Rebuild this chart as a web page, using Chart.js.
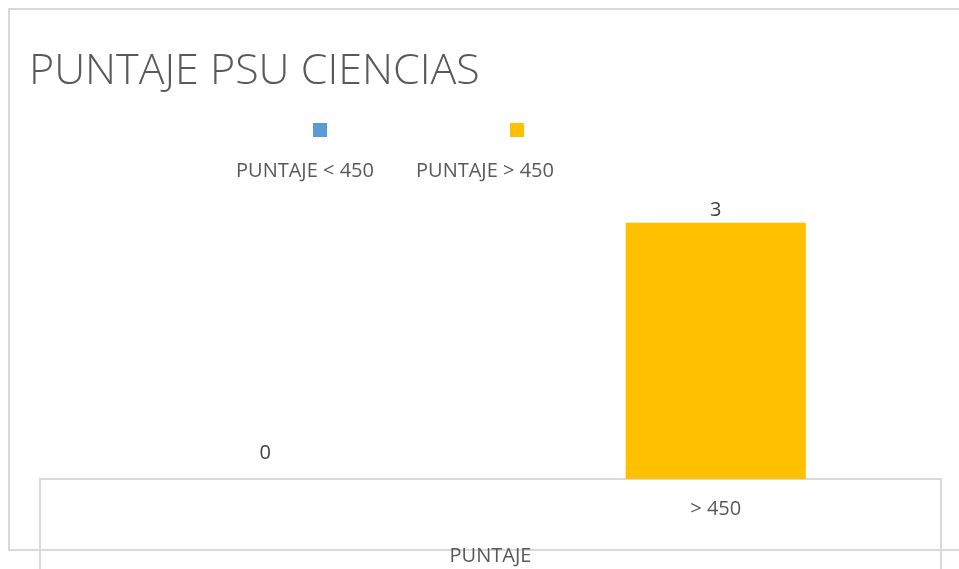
<!DOCTYPE html>
<html>
<head>
<meta charset="utf-8">
<script src="https://cdn.jsdelivr.net/npm/chart.js@4/dist/chart.umd.min.js"></script>
<style>
  html, body { margin: 0; padding: 0; background: #ffffff; }
  #wrap { position: relative; width: 959px; height: 569px; }
</style>
</head>
<body>
<div id="wrap"><canvas id="c" width="959" height="569"></canvas></div>
<script>
const chartTitle = "PUNTAJE PSU CIENCIAS";
const categories = ["", "> 450"];
const groupLabel = "PUNTAJE";
const seriesNames = ["PUNTAJE < 450", "PUNTAJE > 450"];
const seriesLow = [0, null];
const seriesHigh = [null, 3];
const seriesColors = ["#5B9BD5", "#FFC000"];

const TEXT = "#595959";
const LINE = "#d9d9d9";
const FONT = "'Open Sans', 'Liberation Sans', sans-serif";

const decor = {
  id: "decor",
  beforeDraw(chart) {
    const ctx = chart.ctx;
    const x = chart.scales.x;
    const area = chart.chartArea;
    ctx.save();
    ctx.strokeStyle = LINE;
    ctx.lineWidth = 2;
    // outer frame
    ctx.beginPath();
    ctx.moveTo(970, 9); ctx.lineTo(9, 9); ctx.lineTo(9, 550); ctx.lineTo(970, 550);
    ctx.stroke();
    // category table
    ctx.beginPath();
    ctx.moveTo(x.left, 580); ctx.lineTo(x.left, area.bottom); ctx.lineTo(x.right, area.bottom); ctx.lineTo(x.right, 580);
    ctx.stroke();
    // title
    ctx.fillStyle = TEXT;
    ctx.font = "300 43px " + FONT;
    ctx.textBaseline = "alphabetic";
    ctx.textAlign = "left";
    ctx.fillText(chartTitle, 29, 84);
    // legend
    ctx.font = "20px " + FONT;
    ctx.textAlign = "center";
    const items = [
      {mx: 320, tx: 305},
      {mx: 517, tx: 485}
    ];
    chart.data.datasets.forEach((ds, i) => {
      ctx.fillStyle = ds.backgroundColor;
      ctx.fillRect(items[i].mx - 7, 123, 14, 14);
      ctx.fillStyle = TEXT;
      ctx.fillText(ds.label, items[i].tx, 177);
    });
    ctx.restore();
  },
  afterDatasetsDraw(chart) {
    const ctx = chart.ctx;
    ctx.save();
    ctx.fillStyle = "#404040";
    ctx.font = "20px " + FONT;
    ctx.textAlign = "center";
    ctx.textBaseline = "middle";
    chart.data.datasets.forEach((ds, i) => {
      const meta = chart.getDatasetMeta(i);
      meta.data.forEach((bar, j) => {
        const v = ds.data[j];
        if (v === null || v === undefined) return;
        const off = v === 0 ? 26 : 12;
        ctx.fillText(String(v), bar.x, bar.y - off);
      });
    });
    ctx.restore();
  }
};

new Chart(document.getElementById("c"), {
  type: "bar",
  data: {
    labels: categories,
    datasets: [
      { label: seriesNames[0], data: seriesLow, backgroundColor: seriesColors[0], borderWidth: 0 },
      { label: seriesNames[1], data: seriesHigh, backgroundColor: seriesColors[1], borderWidth: 0 }
    ]
  },
  options: {
    responsive: false,
    animation: false,
    devicePixelRatio: 1,
    skipNull: true,
    categoryPercentage: 1.0,
    barPercentage: 0.4,
    layout: { padding: { left: 40, right: 18, top: 180, bottom: 0 } },
    plugins: { legend: { display: false }, title: { display: false }, tooltip: { enabled: false } },
    scales: {
      x: {
        grid: { display: false, drawTicks: false },
        border: { display: false },
        ticks: { color: TEXT, font: { family: FONT, size: 20 }, padding: 18, maxRotation: 0 },
        title: { display: true, text: groupLabel, color: TEXT, font: { family: FONT, size: 20 }, padding: { top: 5, bottom: 1 } }
      },
      y: {
        display: false,
        min: 0,
        max: 3.5
      }
    }
  },
  plugins: [decor]
});
</script>
</body>
</html>
